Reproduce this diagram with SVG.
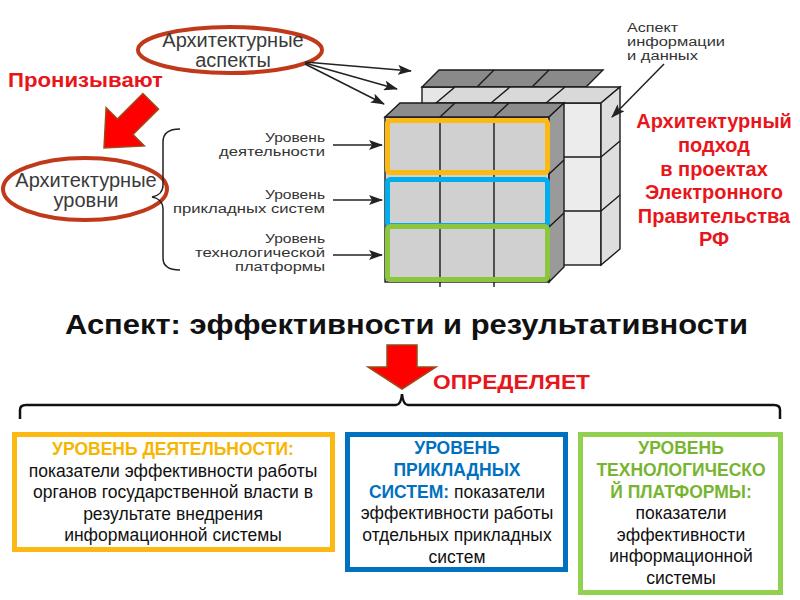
<svg xmlns="http://www.w3.org/2000/svg" width="800" height="600" viewBox="0 0 800 600">
<style>
text{font-family:"Liberation Sans",Arial,sans-serif}
.lbl{font-size:12.5px;fill:#333;text-anchor:end}
.inf{font-size:12px;fill:#333}
.ell{font-size:20px;fill:#3a3a3a;text-anchor:middle}
.ellipse{fill:none;stroke:#C0391B;stroke-width:4}
.red{fill:#E8161B;font-weight:bold}
.appr{font-size:20px;text-anchor:middle}
.ln{stroke:#222;stroke-width:1.5;fill:none}
.arr{stroke:#222;stroke-width:1.5;fill:none;marker-end:url(#ah)}
.cl{stroke:#1a1a1a;stroke-width:1.4;fill:none}
.body{font-size:17.5px;fill:#111;text-anchor:middle}
.hd{font-weight:bold}
.bigarrow{fill:#FF0000;stroke:#9C4A1A;stroke-width:1.5;stroke-linejoin:miter}
</style>
<defs>
<marker id="ah" markerUnits="userSpaceOnUse" markerWidth="15" markerHeight="10" refX="13" refY="5" orient="auto">
<path d="M0,0 L14,5 L0,10 L3,5 z" fill="#222"/>
</marker>
</defs>

<g id="cube">
  <rect x="422" y="87" width="164" height="165" fill="#e6e6e6" stroke="#1a1a1a" stroke-width="1.4"/>
  <polygon points="422,87 586,87 603,70 439,70" fill="#8a8a8a" stroke="#1a1a1a" stroke-width="1.4"/>
  <path class="cl" d="M477,87 L494,70 M532,87 L549,70"/>
  <rect x="436" y="103" width="165" height="162" fill="#ececec" stroke="#1a1a1a" stroke-width="1.4"/>
  <polygon points="436,103 601,103 620,87 455,87" fill="#d9d9d9" stroke="#1a1a1a" stroke-width="1.4"/>
  <polygon points="601,103 620,87 620,249 601,265" fill="#dedede" stroke="#1a1a1a" stroke-width="1.4"/>
  <path class="cl" d="M491,103 L510,87 M546,103 L565,87 M436,157 L601,157 M436,211 L601,211 M601,157 L620,141 M601,211 L620,195"/>
  <rect x="385" y="117" width="164" height="165" fill="#d0d0d0" stroke="#1a1a1a" stroke-width="1.4"/>
  <polygon points="385,117 549,117 564,103 400,103" fill="#8c8c8c" stroke="#1a1a1a" stroke-width="1.4"/>
  <polygon points="549,117 564,103 564,267 549,282" fill="#9a9a9a" stroke="#1a1a1a" stroke-width="1.4"/>
  <path class="cl" d="M440,117 L455,103 M494,117 L509,103 M549,174 L564,160 M549,227 L564,213 M440,117 L440,287 M494,117 L494,287"/>
  <rect x="387.5" y="120.5" width="160" height="52" rx="3" fill="none" stroke="#FDB913" stroke-width="5"/>
  <rect x="387.5" y="179.5" width="160" height="46" rx="3" fill="none" stroke="#00AEEF" stroke-width="5"/>
  <rect x="387.5" y="226.5" width="160" height="53" rx="3" fill="none" stroke="#8CC63F" stroke-width="5"/>
</g>

<g id="aspects">
  <ellipse class="ellipse" cx="230" cy="50" rx="92" ry="23"/>
  <text class="ell" x="233" y="47">Архитектурные</text>
  <text class="ell" x="233" y="67">аспекты</text>
</g>

<g id="levels">
  <ellipse class="ellipse" cx="85" cy="189" rx="82" ry="31"/>
  <text class="ell" x="86" y="187">Архитектурные</text>
  <text class="ell" x="86" y="207">уровни</text>
</g>

<g id="pierce">
  <text class="red" x="8" y="87" font-size="20" textLength="155" lengthAdjust="spacingAndGlyphs">Пронизывают</text>
  <polygon class="bigarrow" transform="translate(104,148) rotate(135)" points="-66,-11 -30,-11 -30,-27 0,0 -30,27 -30,11 -66,11"/>
</g>

<g id="level-labels">
  <text class="lbl" x="325" y="142" textLength="60" lengthAdjust="spacingAndGlyphs">Уровень</text>
  <text class="lbl" x="325" y="156" textLength="106" lengthAdjust="spacingAndGlyphs">деятельности</text>
  <text class="lbl" x="325" y="199" textLength="60" lengthAdjust="spacingAndGlyphs">Уровень</text>
  <text class="lbl" x="325" y="213" textLength="152" lengthAdjust="spacingAndGlyphs">прикладных систем</text>
  <text class="lbl" x="325" y="243" textLength="60" lengthAdjust="spacingAndGlyphs">Уровень</text>
  <text class="lbl" x="325" y="257" textLength="130" lengthAdjust="spacingAndGlyphs">технологической</text>
  <text class="lbl" x="325" y="271" textLength="90" lengthAdjust="spacingAndGlyphs">платформы</text>
</g>

<g id="info-label">
  <text class="inf" x="627" y="32" textLength="51" lengthAdjust="spacingAndGlyphs">Аспект</text>
  <text class="inf" x="627" y="46" textLength="98" lengthAdjust="spacingAndGlyphs">информации</text>
  <text class="inf" x="627" y="60" textLength="71" lengthAdjust="spacingAndGlyphs">и данных</text>
</g>

<g id="approach">
  <text class="red appr" x="714" y="128">Архитектурный</text>
  <text class="red appr" x="714" y="152">подход</text>
  <text class="red appr" x="714" y="176">в проектах</text>
  <text class="red appr" x="714" y="199">Электронного</text>
  <text class="red appr" x="714" y="223">Правительства</text>
  <text class="red appr" x="714" y="246">РФ</text>
</g>

<g id="connectors">
  <path class="arr" d="M305,62 L411,71"/>
  <path class="arr" d="M305,63 L397,89"/>
  <path class="arr" d="M305,64 L384,104"/>
  <path class="arr" d="M664,64 L612,117"/>
  <path class="arr" d="M333,145 L382,145"/>
  <path class="arr" d="M333,200 L382,200"/>
  <path class="arr" d="M333,255 L382,255"/>
  <path class="ln" d="M180,129 C170,129 163,132 163,142 L163,185 C163,192 158,196 152,197 C158,198 163,202 163,209 L163,258 C163,267 170,270 180,270"/>
  <path d="M20,419 L20,410 Q20,405 26,405 L396,405 Q401,405 402,394 Q403,405 408,405 L774,405 Q780,405 780,410 L780,419" fill="none" stroke="#111" stroke-width="2.5"/>
</g>

<g id="title">
  <text x="65" y="334" font-size="27" font-weight="bold" fill="#111" textLength="683" lengthAdjust="spacingAndGlyphs">Аспект: эффективности и результативности</text>
</g>

<g id="defines">
  <polygon class="bigarrow" points="387,345 417,345 417,367 436,367 402,389 368,367 387,367"/>
  <text class="red" x="433" y="389" font-size="20" textLength="157" lengthAdjust="spacingAndGlyphs">ОПРЕДЕЛЯЕТ</text>
</g>

<g id="box-activity">
  <rect x="14.5" y="434.5" width="318" height="115" fill="#fff" stroke="#FDB913" stroke-width="5"/>
  <text class="body" x="173" y="455"><tspan class="hd" fill="#F7B500">УРОВЕНЬ ДЕЯТЕЛЬНОСТИ:</tspan></text>
  <text class="body" x="173" y="477">показатели эффективности работы</text>
  <text class="body" x="173" y="498">органов государственной власти в</text>
  <text class="body" x="173" y="520">результате внедрения</text>
  <text class="body" x="173" y="541">информационной системы</text>
</g>

<g id="box-apps">
  <rect x="347.5" y="434.5" width="218" height="135" fill="#fff" stroke="#0070C0" stroke-width="5"/>
  <text class="body" x="457" y="454"><tspan class="hd" fill="#0070C0">УРОВЕНЬ</tspan></text>
  <text class="body" x="457" y="476"><tspan class="hd" fill="#0070C0">ПРИКЛАДНЫХ</tspan></text>
  <text class="body" x="457" y="498"><tspan class="hd" fill="#0070C0">СИСТЕМ:</tspan> показатели</text>
  <text class="body" x="457" y="519">эффективности работы</text>
  <text class="body" x="457" y="541">отдельных прикладных</text>
  <text class="body" x="457" y="563">систем</text>
</g>

<g id="box-platform">
  <rect x="580.5" y="434.5" width="200" height="158" fill="#fff" stroke="#92D050" stroke-width="5"/>
  <text class="body" x="681" y="454"><tspan class="hd" fill="#77B530">УРОВЕНЬ</tspan></text>
  <text class="body" x="681" y="476"><tspan class="hd" fill="#77B530">ТЕХНОЛОГИЧЕСКО</tspan></text>
  <text class="body" x="681" y="498"><tspan class="hd" fill="#77B530">Й ПЛАТФОРМЫ:</tspan></text>
  <text class="body" x="681" y="519">показатели</text>
  <text class="body" x="681" y="541">эффективности</text>
  <text class="body" x="681" y="562">информационной</text>
  <text class="body" x="681" y="584">системы</text>
</g>
</svg>
